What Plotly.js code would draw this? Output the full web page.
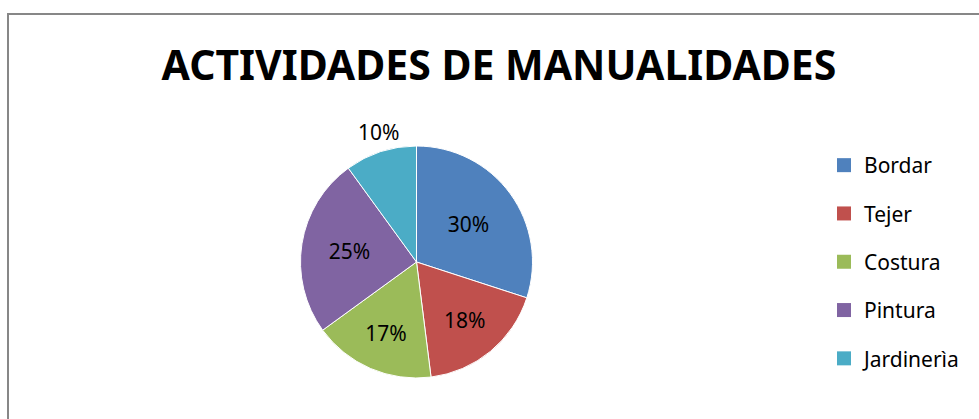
<!DOCTYPE html>
<html>
<head>
<meta charset="utf-8">
<script src="https://cdn.plot.ly/plotly-3.0.1.min.js"></script>
<style>html,body{margin:0;padding:0;background:#fff;}#chart{width:979px;height:419px;}</style>
</head>
<body>
<div id="chart"></div>
<script>
const chartTitle = 'ACTIVIDADES DE MANUALIDADES';
const labels = ['Bordar', 'Tejer', 'Costura', 'Pintura', 'Jardinerìa'];
const values = [30, 18, 17, 25, 10];
const colors = ['#4F81BD', '#C0504D', '#9BBB59', '#8064A2', '#4BACC6'];
const insideFlags = [true, true, true, true, false];

const FONT = 'Noto Sans, Open Sans, sans-serif';
const W = 979, H = 419;

const pie = {
  type: 'pie',
  labels: labels,
  values: values,
  sort: false,
  direction: 'clockwise',
  rotation: 0,
  marker: {colors: colors, line: {color: '#ffffff', width: 1}},
  texttemplate: insideFlags.map(f => f ? '%{percent}' : ''),
  textposition: 'inside',
  insidetextorientation: 'horizontal',
  textfont: {family: FONT, size: 21, color: '#000000'},
  insidetextfont: {family: FONT, size: 21, color: '#000000'},
  hoverinfo: 'label+percent',
  showlegend: false,
  domain: {x: [300 / W, 533 / W], y: [1 - 378 / H, 1 - 146 / H]}
};

const legendTraces = labels.map((lab, i) => ({
  type: 'scatter',
  mode: 'markers',
  x: [null], y: [null],
  name: lab,
  legendgroup: lab,
  marker: {symbol: 'square', size: 14, color: colors[i]},
  hoverinfo: 'skip'
}));

// percentage label placed outside for the smallest slice
const total = values.reduce((a, b) => a + b, 0);
const annotations = values.map((v, i) => insideFlags[i] ? null : {
  xref: 'paper', yref: 'paper',
  x: 378 / W, y: 1 - 132 / H,
  text: Math.round(v / total * 100) + '%',
  showarrow: false,
  font: {family: FONT, size: 21, color: '#000000'},
  xanchor: 'center', yanchor: 'middle'
}).filter(a => a);

const layout = {
  width: W, height: H,
  margin: {l: 0, r: 0, t: 0, b: 0},
  paper_bgcolor: '#ffffff',
  plot_bgcolor: '#ffffff',
  title: {
    text: '<b>' + chartTitle + '</b>',
    font: {family: FONT, size: 41, color: '#000000'},
    x: 499 / W, xanchor: 'center', xref: 'paper',
    y: 1 - 66 / H, yanchor: 'middle', yref: 'container'
  },
  xaxis: {visible: false},
  yaxis: {visible: false},
  showlegend: true,
  legend: {
    x: 824 / W, xanchor: 'left',
    y: 1 - 145 / H, yanchor: 'top',
    font: {family: FONT, size: 21, color: '#000000'},
    tracegroupgap: 18,
    traceorder: 'grouped',
    bgcolor: 'rgba(0,0,0,0)'
  },
  annotations: annotations,
  shapes: [{
    type: 'rect', xref: 'paper', yref: 'paper',
    x0: 8 / W, x1: 1.05, y0: -0.05, y1: 1 - 14 / H,
    line: {color: '#878787', width: 2},
    fillcolor: 'rgba(0,0,0,0)', layer: 'below'
  }]
};

Plotly.newPlot('chart', [pie].concat(legendTraces), layout, {displayModeBar: false, staticPlot: true});
</script>
</body>
</html>
